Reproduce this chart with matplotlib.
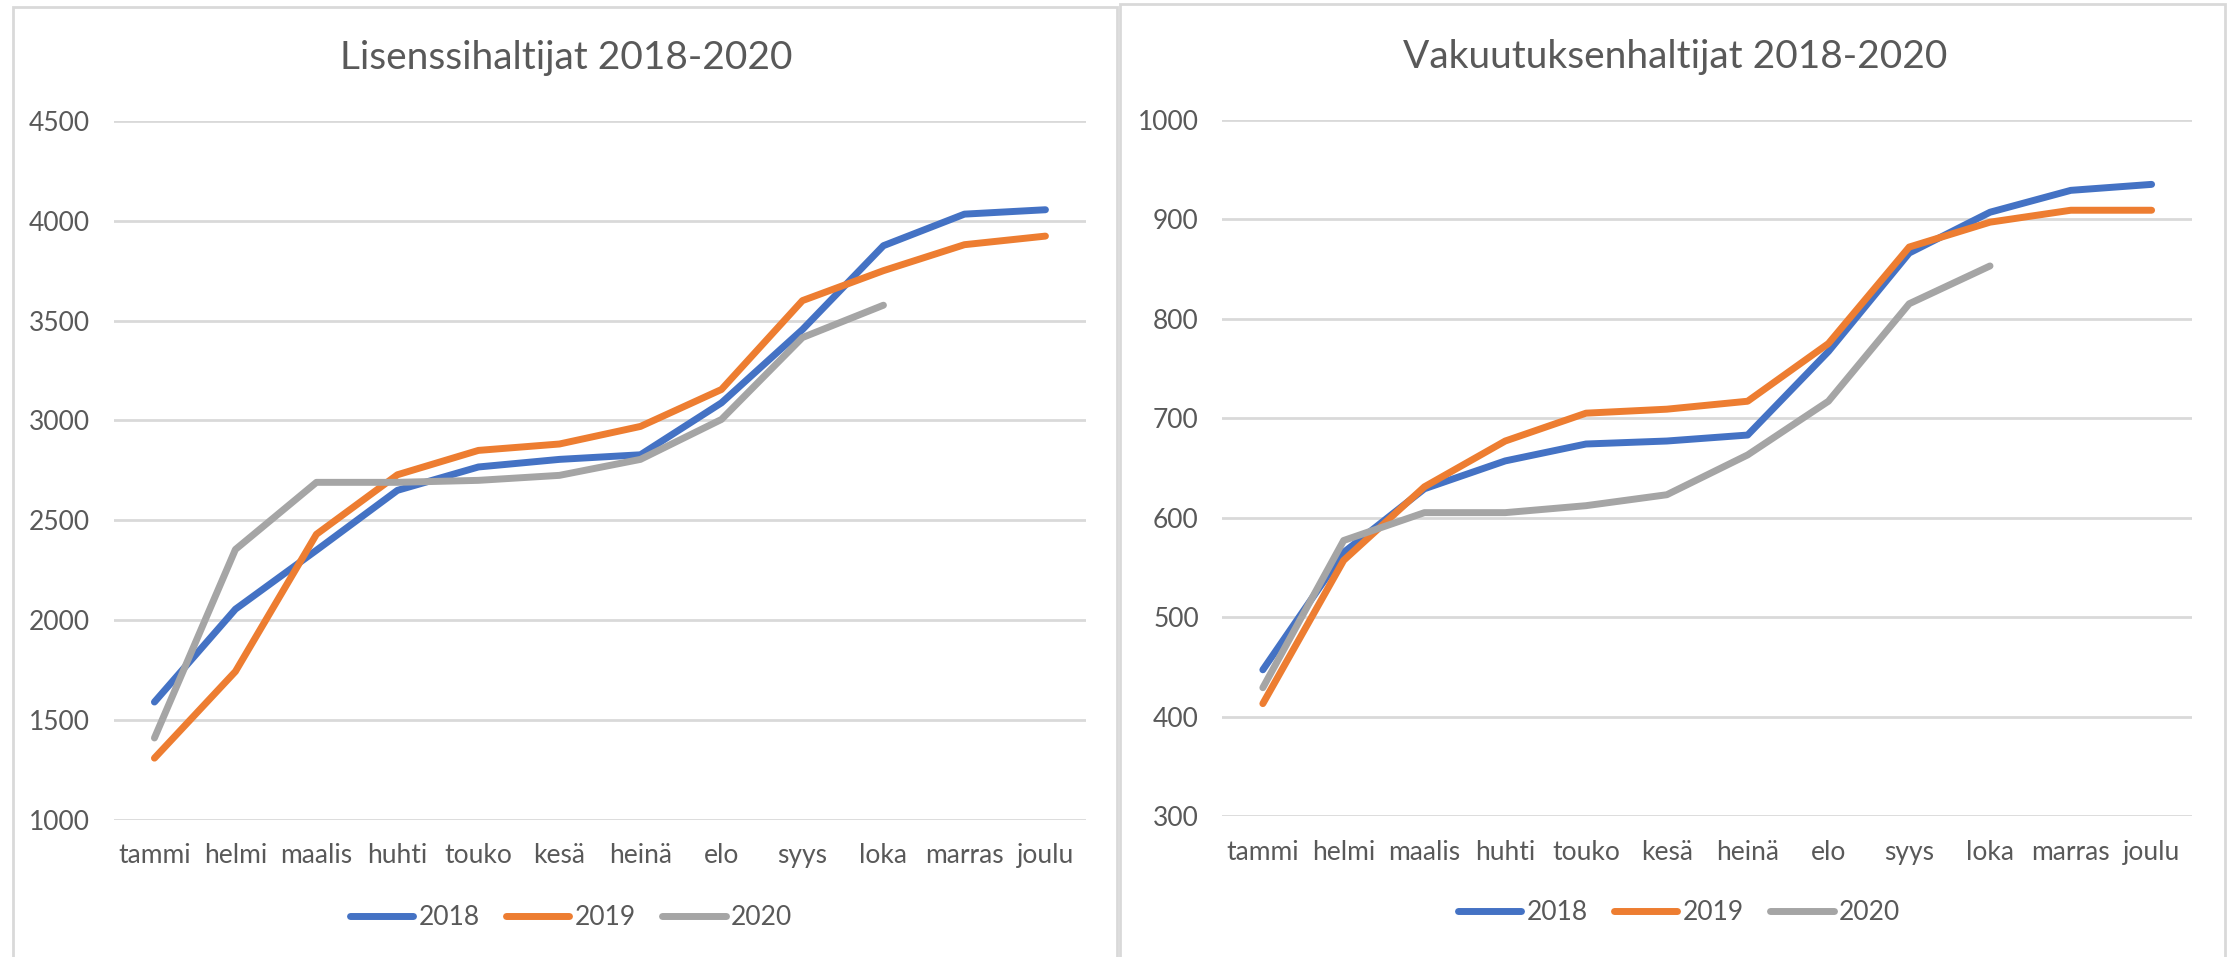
import numpy as np
import matplotlib
matplotlib.use("Agg")
import matplotlib.pyplot as plt
from matplotlib.patches import Rectangle

plt.rcParams['font.family'] = ['Lato', 'DejaVu Sans']

# ---------------- data ----------------
months = ['tammi', 'helmi', 'maalis', 'huhti', 'touko', 'kesä',
          'heinä', 'elo', 'syys', 'loka', 'marras', 'joulu']
years = ['2018', '2019', '2020']

lisenssi_2018 = [1590, 2055, 2350, 2650, 2767, 2805, 2828, 3088, 3455, 3875, 4033, 4055]
lisenssi_2019 = [1309, 1743, 2430, 2728, 2850, 2882, 2970, 3155, 3600, 3750, 3880, 3923]
lisenssi_2020 = [1410, 2354, 2690, 2690, 2700, 2725, 2805, 3005, 3415, 3577]

vakuutus_2018 = [447, 565, 629, 657, 674, 677, 683, 767, 866, 907, 929, 935]
vakuutus_2019 = [413, 557, 631, 677, 705, 709, 717, 775, 872, 897, 909, 909]
vakuutus_2020 = [429, 577, 605, 605, 612, 623, 663, 717, 815, 853]

colors = ['#4472C4', '#ED7D31', '#A5A5A5']
text_col = '#595959'
grid_col = '#D9D9D9'

fig = plt.figure(figsize=(22.34, 9.57), dpi=100)

# panel frames (like two Excel chart boxes)
fig.patches.append(Rectangle((13 / 2234, -0.01), (1117 - 13) / 2234, 1 - 7 / 957 + 0.01,
                             transform=fig.transFigure, fill=False,
                             edgecolor=grid_col, linewidth=2))
fig.patches.append(Rectangle((1120 / 2234, -0.01), (2225 - 1120) / 2234, 1 - 4 / 957 + 0.01,
                             transform=fig.transFigure, fill=False,
                             edgecolor=grid_col, linewidth=2))


def draw_chart(rect, series, title, ylim, yticks, title_xy, legend_xy):
    ax = fig.add_axes(rect)
    x = np.arange(len(months))
    for vals, col, lab in zip(series, colors, years):
        ax.plot(x[:len(vals)], vals, color=col, linewidth=5,
                solid_capstyle='round', solid_joinstyle='round', label=lab)
    ax.set_xlim(-0.5, len(months) - 0.5)
    ax.set_ylim(*ylim)
    ax.set_yticks(yticks)
    ax.set_xticks(x)
    ax.set_xticklabels(months)
    ax.yaxis.grid(True, color=grid_col, linewidth=2)
    ax.set_axisbelow(True)
    for s in ax.spines.values():
        s.set_visible(False)
    ax.tick_params(axis='both', length=0, labelsize=19, colors=text_col)
    ax.tick_params(axis='y', pad=17)
    ax.tick_params(axis='x', pad=17)
    fig.text(title_xy[0], title_xy[1], title, ha='center', va='center',
             fontsize=28, color=text_col)
    fig.legend(*ax.get_legend_handles_labels(), loc='center',
               bbox_to_anchor=legend_xy, ncol=3, frameon=False,
               fontsize=19, labelcolor=text_col, handlelength=2.4,
               handletextpad=0.2, columnspacing=1.0)
    return ax


draw_chart([0.0510, 0.1433, 0.4351, 0.7304],
           [lisenssi_2018, lisenssi_2019, lisenssi_2020],
           'Lisenssihaltijat 2018-2020', (1000, 4500),
           np.arange(1000, 4501, 500), (0.2534, 0.939), (0.2556, 0.041))

draw_chart([0.5472, 0.1473, 0.4340, 0.7276],
           [vakuutus_2018, vakuutus_2019, vakuutus_2020],
           'Vakuutuksenhaltijat 2018-2020', (300, 1000),
           np.arange(300, 1001, 100), (0.7498, 0.940), (0.7516, 0.046))

fig.savefig('out.png', dpi=100, facecolor='white')
